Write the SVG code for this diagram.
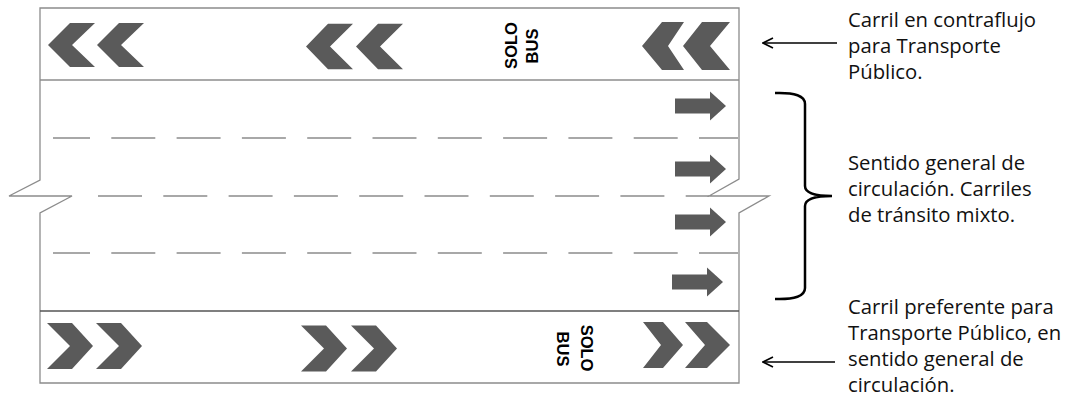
<svg xmlns="http://www.w3.org/2000/svg" xmlns:xlink="http://www.w3.org/1999/xlink" width="1070" height="405" viewBox="0 0 1070 405">
<style>
.road{fill:#fff;stroke:#8c8c8c;stroke-width:1.3}
.sep{stroke:#8c8c8c;stroke-width:1.3;fill:none}
.sepd{stroke:#555;stroke-width:1.3;fill:none}
.dash{stroke:#8c8c8c;stroke-width:1.3;fill:none;stroke-dasharray:44 21.3}
.mk{fill:#5a5a5a}
.bus{font-family:"Liberation Sans",Arial,sans-serif;font-weight:bold;font-size:16.5px;fill:#000}
.lbl{font-family:"Open Sans","Noto Sans",sans-serif;font-size:20.3px;fill:#111}
.ann{stroke:#000;stroke-width:1.6;fill:none}
.brace{stroke:#000;stroke-width:2.5;fill:none}
</style>
<defs>
<path id="chevL" d="M0,0 L22,-22 L47,-22 L24,0 L47,22 L22,22 Z"/>
<path id="chevR" d="M0,0 L-21,-23 L-46,-23 L-23,0 L-46,23 L-21,23 Z"/>
<path id="arr" d="M0,0 L-16,-14.5 L-16,-7.5 L-51,-7.5 L-51,7.5 L-16,7.5 L-16,14.5 Z"/>
<marker id="open" viewBox="0 0 12 12" refX="11" refY="6" markerWidth="12" markerHeight="12" markerUnits="userSpaceOnUse" orient="auto">
<path d="M1,1 L11,6 L1,11" fill="none" stroke="#000" stroke-width="1.6"/>
</marker>
</defs>
<g id="road">
<path class="road" d="M40,180 L40,8 L739,8 L739,179 L709,196 L769,196 L739,213 L739,383 L40,383 L40,213 L72,196 L9,196 Z"/>
<line class="sep" x1="40" y1="80" x2="739" y2="80"/>
<line class="sepd" x1="40" y1="311" x2="739" y2="311"/>
<line class="dash" x1="53" y1="138" x2="738" y2="138" stroke-dashoffset="7"/>
<line class="dash" x1="98" y1="196" x2="709" y2="196"/>
<line class="dash" x1="53" y1="253" x2="738" y2="253" stroke-dashoffset="7"/>
</g>
<g id="contraflow-lane">
<use href="#chevL" class="mk" x="48" y="45"/>
<use href="#chevL" class="mk" x="97" y="45"/>
<use href="#chevL" class="mk" transform="translate(306,46.5) scale(1,1.03)"/>
<use href="#chevL" class="mk" transform="translate(356,46.5) scale(1,1.03)"/>
<path class="mk" d="M642,46 L662,22 L684,22 L668,46 L684,70 L662,70 Z"/>
<path class="mk" d="M683,46 L702,22 L730,22 L710,46 L730,70 L702,70 Z"/>
<text class="bus" transform="translate(517,45.5) rotate(-90)" text-anchor="middle">SOLO</text>
<text class="bus" transform="translate(538,46) rotate(-90)" text-anchor="middle">BUS</text>
</g>
<g id="general-lanes">
<use href="#arr" class="mk" x="726" y="106"/>
<use href="#arr" class="mk" x="726" y="169"/>
<use href="#arr" class="mk" x="726" y="222"/>
<use href="#arr" class="mk" x="723" y="282"/>
</g>
<g id="preferential-lane">
<use href="#chevR" class="mk" x="93" y="346"/>
<use href="#chevR" class="mk" x="142" y="346"/>
<use href="#chevR" class="mk" x="347" y="348.5"/>
<use href="#chevR" class="mk" x="397" y="348.5"/>
<path class="mk" d="M683,345 L663,322 L643,322 L661,345 L643,368 L663,368 Z"/>
<path class="mk" d="M730,345 L707,322 L685,322 L705,345 L685,368 L707,368 Z"/>
<text class="bus" transform="translate(581,348) rotate(90)" text-anchor="middle">SOLO</text>
<text class="bus" transform="translate(557,349) rotate(90)" text-anchor="middle">BUS</text>
</g>
<g id="connectors">
<line class="ann" x1="837" y1="43" x2="763" y2="43" marker-end="url(#open)"/>
<path class="brace" d="M775,93 Q805,92 805,104 L805,186 Q805,196 832,196 Q805,196 805,206 L805,288 Q805,300 775,299"/>
<line class="ann" x1="835" y1="362" x2="763" y2="362" marker-end="url(#open)"/>
</g>
<g id="label-contraflow">
<text class="lbl" x="848" y="26.5">Carril en contraflujo</text>
<text class="lbl" x="848" y="52.5">para Transporte</text>
<text class="lbl" x="848" y="78.5">Público.</text>
</g>
<g id="label-general">
<text class="lbl" x="848" y="170">Sentido general de</text>
<text class="lbl" x="848" y="196">circulación. Carriles</text>
<text class="lbl" x="848" y="222">de tránsito mixto.</text>
</g>
<g id="label-preferential">
<text class="lbl" x="848" y="314">Carril preferente para</text>
<text class="lbl" x="848" y="340">Transporte Público, en</text>
<text class="lbl" x="848" y="366">sentido general de</text>
<text class="lbl" x="848" y="392">circulación.</text>
</g>
</svg>
